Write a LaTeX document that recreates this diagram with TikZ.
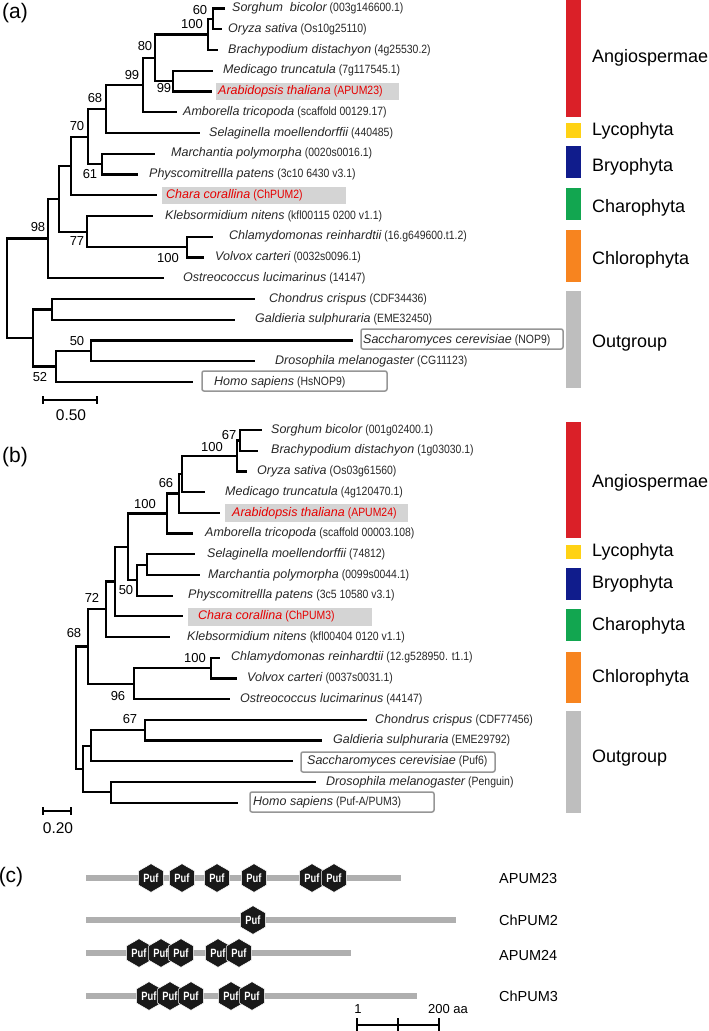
\documentclass[tikz,border=0pt]{standalone}
\usepackage{fontspec}
\setmainfont{Liberation Sans}
\usetikzlibrary{shapes.geometric}

\definecolor{angio}{RGB}{218,32,40}
\definecolor{lyco}{RGB}{255,210,20}
\definecolor{bryo}{RGB}{16,28,140}
\definecolor{charo}{RGB}{18,166,80}
\definecolor{chloro}{RGB}{247,132,31}
\definecolor{outg}{RGB}{190,190,190}
\definecolor{hilite}{RGB}{212,212,212}
\definecolor{boxline}{RGB}{150,150,150}
\definecolor{protgray}{RGB}{175,175,175}
\definecolor{labred}{RGB}{230,0,0}
\definecolor{labtext}{RGB}{40,40,40}

% species name + gene id
\newcommand\taxon[2]{{\fontsize{12.5}{14}\selectfont\itshape #1} \scalebox{.87}[1]{\fontsize{12}{14}\selectfont(#2)}}
\newcommand\pufl{\scalebox{.78}[1]{Puf}}

\begin{document}
\begin{tikzpicture}[x=1pt,y=-1pt,
    branch/.style={line width=2.2pt},
    tip/.style={anchor=west,inner sep=0pt,font=\fontsize{11}{13}\selectfont},
    boot/.style={inner sep=0pt,font=\fontsize{13}{13}\selectfont},
    group/.style={anchor=west,inner sep=0pt,font=\fontsize{18}{18}\selectfont},
    panel/.style={inner sep=0pt,font=\fontsize{21}{21}\selectfont},
    hl/.style={fill=hilite},
    outbox/.style={draw=boxline,line width=1.5pt,rounded corners=2pt},
    protein/.style={protgray,line width=5.5pt},
    puf/.style={regular polygon,regular polygon sides=6,shape border rotate=90,
      minimum size=28.5pt,inner sep=0pt,outer sep=0pt,fill=black!90,draw=white,line width=.5pt,
      text=white,font=\bfseries\fontsize{12}{12}\selectfont},
    prot/.style={anchor=west,inner sep=0pt,font=\fontsize{14.5}{14.5}\selectfont}]
  \useasboundingbox[fill=white] (0,0) rectangle (709,1031);

  \node[panel] (pa) at (15,13) {(a)};
  \node[panel] (pb) at (15,457) {(b)};
  \node[panel] (pc) at (11,877) {(c)};

  % ---------------- (a) ----------------
  \fill[hl] (216,83) rectangle (399,100);
  \fill[hl] (162,187) rectangle (346,204);
  \draw[outbox] (361,329) rectangle (563,349);
  \draw[outbox] (202,371) rectangle (387,391);

  \foreach \n/\e/\x/\sp/\id/\col in {
      1/225/232/Sorghum~~bicolor/003g146600.1/labtext,
      2/222/228/Oryza sativa/Os10g25110/labtext,
      3/218/228/Brachypodium distachyon/4g25530.2/labtext,
      4/213/223/Medicago truncatula/7g117545.1/labtext,
      5/212/218/Arabidopsis thaliana/APUM23/labred,
      6/177/183/Amborella tricopoda/scaffold 00129.17/labtext,
      7/200/209/Selaginella moellendorffii/440485/labtext,
      8/155/171/Marchantia polymorpha/0020s0016.1/labtext,
      9/138/149/Physcomitrellla patens/3c10 6430 v3.1/labtext,
      10/157/166/Chara corallina/ChPUM2/labred,
      11/153/165/Klebsormidium nitens/kfl00115 0200 v1.1/labtext,
      12/213/229/Chlamydomonas reinhardtii/16.g649600.t1.2/labtext,
      13/204/215/Volvox carteri/0032s0096.1/labtext,
      14/164/183/Ostreococcus lucimarinus/14147/labtext,
      15/255/269/Chondrus crispus/CDF34436/labtext,
      16/235/255/Galdieria sulphuraria/EME32450/labtext,
      17/353/363/Saccharomyces cerevisiae/NOP9/labtext,
      18/255/275/Drosophila melanogaster/CG11123/labtext,
      19/193/214/Homo sapiens/HsNOP9/labtext}
  {
    \coordinate (A\n) at (\e,{8.5+20.75*(\n-1)});
    \node[tip,text=\col] (LA\n) at (\x,{8.5+20.75*(\n-1)}) {\taxon{\sp}{\id}};
  }

  \coordinate (A-n1) at (213,18.9);
  \coordinate (A-n2) at (208,34.4);
  \coordinate (A-n3) at (173,81.1);
  \coordinate (A-n4) at (155,57.8);
  \coordinate (A-n5) at (143,85.0);
  \coordinate (A-n6) at (106,109.0);
  \coordinate (A-n7) at (102,164.1);
  \coordinate (A-n8) at (88,136.6);
  \coordinate (A-n9) at (71,165.9);
  \coordinate (A-n10) at (187,247.1);
  \coordinate (A-n11) at (87,231.6);
  \coordinate (A-n12) at (59,198.8);
  \coordinate (A-n13) at (48,238.5);
  \coordinate (A-n14) at (52,309.4);
  \coordinate (A-n15) at (91,350.9);
  \coordinate (A-n16) at (56,366.5);
  \coordinate (A-n17) at (33,338.0);
  \coordinate (A-root) at (7,288.2);

  \draw[branch] (A-n1) |- (A1) (A-n1) |- (A2)
    (A-n2) |- (A-n1) (A-n2) |- (A3)
    (A-n3) |- (A4) (A-n3) |- (A5)
    (A-n4) |- (A-n2) (A-n4) |- (A-n3)
    (A-n5) |- (A-n4) (A-n5) |- (A6)
    (A-n6) |- (A-n5) (A-n6) |- (A7)
    (A-n7) |- (A8) (A-n7) |- (A9)
    (A-n8) |- (A-n6) (A-n8) |- (A-n7)
    (A-n9) |- (A-n8) (A-n9) |- (A10)
    (A-n10) |- (A12) (A-n10) |- (A13)
    (A-n11) |- (A11) (A-n11) |- (A-n10)
    (A-n12) |- (A-n9) (A-n12) |- (A-n11)
    (A-n13) |- (A-n12) (A-n13) |- (A14)
    (A-n14) |- (A15) (A-n14) |- (A16)
    (A-n15) |- (A17) (A-n15) |- (A18)
    (A-n16) |- (A-n15) (A-n16) |- (A19)
    (A-n17) |- (A-n14) (A-n17) |- (A-n16)
    (A-root) |- (A-n13) (A-root) |- (A-n17);

  \node[boot] (bA1) at (200,10) {60};
  \node[boot] (bA2) at (192,24) {100};
  \node[boot] (bA3) at (145,46) {80};
  \node[boot] (bA4) at (164,88) {99};
  \node[boot] (bA5) at (132,75) {99};
  \node[boot] (bA6) at (95,98) {68};
  \node[boot] (bA7) at (90,174) {61};
  \node[boot] (bA8) at (77,126) {70};
  \node[boot] (bA9) at (38,227) {98};
  \node[boot] (bA10) at (77,241) {77};
  \node[boot] (bA11) at (168,258) {100};
  \node[boot] (bA12) at (77,341) {50};
  \node[boot] (bA13) at (40,377) {52};

  \draw[line width=1.4pt] (43,400) -- (97,400) (43,396) -- (43,404) (97,396) -- (97,404);
  \node[inner sep=0pt,font=\fontsize{15.5}{15.5}\selectfont] (sA) at (71,415) {0.50};

  \fill[angio] (566,0) rectangle (581,117);
  \fill[lyco] (566,123) rectangle (581,138);
  \fill[bryo] (566,146) rectangle (581,178);
  \fill[charo] (566,188) rectangle (581,220);
  \fill[chloro] (566,230) rectangle (581,282);
  \fill[outg] (566,291) rectangle (581,388);
  \node[group] (gA1) at (592,58) {Angiospermae};
  \node[group] (gA2) at (592,131) {Lycophyta};
  \node[group] (gA3) at (592,167) {Bryophyta};
  \node[group] (gA4) at (592,208) {Charophyta};
  \node[group] (gA5) at (592,260) {Chlorophyta};
  \node[group] (gA6) at (592,343) {Outgroup};

  % ---------------- (b) ----------------
  \fill[hl] (225,504) rectangle (408,522);
  \fill[hl] (188,608) rectangle (372,626);
  \draw[outbox] (301,752) rectangle (495,772);
  \draw[outbox] (250,792) rectangle (434,812);

  \foreach \n/\e/\x/\sp/\id/\col in {
      1/262/271/Sorghum bicolor/001g02400.1/labtext,
      2/258/271/Brachypodium distachyon/1g03030.1/labtext,
      3/247/257/Oryza sativa/Os03g61560/labtext,
      4/205/225/Medicago truncatula/4g120470.1/labtext,
      5/220/232/Arabidopsis thaliana/APUM24/labred,
      6/193/205/Amborella tricopoda/scaffold 00003.108/labtext,
      7/195/207/Selaginella moellendorffii/74812/labtext,
      8/200/208/Marchantia polymorpha/0099s0044.1/labtext,
      9/173/188/Physcomitrellla patens/3c5 10580 v3.1/labtext,
      10/183/198/Chara corallina/ChPUM3/labred,
      11/170/187/Klebsormidium nitens/kfl00404 0120 v1.1/labtext,
      12/220/231/Chlamydomonas reinhardtii/12.g528950. t1.1/labtext,
      13/237/247/Volvox carteri/0037s0031.1/labtext,
      14/230/240/Ostreococcus lucimarinus/44147/labtext,
      15/367/375/Chondrus crispus/CDF77456/labtext,
      16/322/333/Galdieria sulphuraria/EME29792/labtext,
      17/293/307/Saccharomyces cerevisiae/Puf6/labtext,
      18/316/326/Drosophila melanogaster/Penguin/labtext,
      19/238/253/Homo sapiens/Puf-A\slash PUM3/labtext}
  {
    \coordinate (B\n) at (\e,{430+20.7*(\n-1)});
    \node[tip,text=\col] (LB\n) at (\x,{430+20.7*(\n-1)}) {\taxon{\sp}{\id}};
  }

  \coordinate (B-n1) at (240,440.4);
  \coordinate (B-n2) at (237,455.9);
  \coordinate (B-n3) at (182,474.0);
  \coordinate (B-n4) at (179,493.4);
  \coordinate (B-n5) at (167,513.5);
  \coordinate (B-n6) at (147,564.6);
  \coordinate (B-n7) at (137,580.1);
  \coordinate (B-n8) at (128,546.8);
  \coordinate (B-n9) at (115,581.5);
  \coordinate (B-n10) at (106,609.3);
  \coordinate (B-n11) at (211,668.1);
  \coordinate (B-n12) at (134,683.6);
  \coordinate (B-n13) at (88,646.4);
  \coordinate (B-n14) at (145,730.2);
  \coordinate (B-n15) at (91,745.7);
  \coordinate (B-n16) at (111,792.3);
  \coordinate (B-n17) at (83,769.0);
  \coordinate (B-root) at (76,707.7);

  \draw[branch] (B-n1) |- (B1) (B-n1) |- (B2)
    (B-n2) |- (B-n1) (B-n2) |- (B3)
    (B-n3) |- (B-n2) (B-n3) |- (B4)
    (B-n4) |- (B-n3) (B-n4) |- (B5)
    (B-n5) |- (B-n4) (B-n5) |- (B6)
    (B-n6) |- (B7) (B-n6) |- (B8)
    (B-n7) |- (B-n6) (B-n7) |- (B9)
    (B-n8) |- (B-n5) (B-n8) |- (B-n7)
    (B-n9) |- (B-n8) (B-n9) |- (B10)
    (B-n10) |- (B-n9) (B-n10) |- (B11)
    (B-n11) |- (B12) (B-n11) |- (B13)
    (B-n12) |- (B-n11) (B-n12) |- (B14)
    (B-n13) |- (B-n10) (B-n13) |- (B-n12)
    (B-n14) |- (B15) (B-n14) |- (B16)
    (B-n15) |- (B-n14) (B-n15) |- (B17)
    (B-n16) |- (B18) (B-n16) |- (B19)
    (B-n17) |- (B-n15) (B-n17) |- (B-n16)
    (B-root) |- (B-n13) (B-root) |- (B-n17);

  \node[boot] (bB1) at (229,435) {67};
  \node[boot] (bB2) at (212,447) {100};
  \node[boot] (bB3) at (166,483) {66};
  \node[boot] (bB4) at (145,504) {100};
  \node[boot] (bB5) at (126,590) {50};
  \node[boot] (bB6) at (92,598) {72};
  \node[boot] (bB7) at (74,633) {68};
  \node[boot] (bB8) at (195,658) {100};
  \node[boot] (bB9) at (118,696) {96};
  \node[boot] (bB10) at (130,719) {67};

  \draw[line width=1.4pt] (43,811) -- (71,811) (43,807) -- (43,815) (71,807) -- (71,815);
  \node[inner sep=0pt,font=\fontsize{15.5}{15.5}\selectfont] (sB) at (58,828) {0.20};

  \fill[angio] (566,422) rectangle (581,538);
  \fill[lyco] (566,545) rectangle (581,559);
  \fill[bryo] (566,568) rectangle (581,600);
  \fill[charo] (566,609) rectangle (581,641);
  \fill[chloro] (566,652) rectangle (581,703);
  \fill[outg] (566,711) rectangle (581,813);
  \node[group] (gB1) at (592,483) {Angiospermae};
  \node[group] (gB2) at (592,552) {Lycophyta};
  \node[group] (gB3) at (592,584) {Bryophyta};
  \node[group] (gB4) at (592,626) {Charophyta};
  \node[group] (gB5) at (592,678) {Chlorophyta};
  \node[group] (gB6) at (592,758) {Outgroup};

  % ---------------- (c) ----------------
  \draw[protein] (86,878) -- (401,878);
  \draw[protein] (86,920) -- (456,920);
  \draw[protein] (86,953) -- (351,953);
  \draw[protein] (86,996) -- (417,996);

  \foreach \x [count=\i] in {151,182,217,254,312,334}
    \node[puf] (p1-\i) at (\x,878) {\pufl};
  \node[puf] (p2-1) at (253,920) {\pufl};
  \foreach \x [count=\i] in {139,161,181,218,239}
    \node[puf] (p3-\i) at (\x,953) {\pufl};
  \foreach \x [count=\i] in {149,170,191,231,252}
    \node[puf] (p4-\i) at (\x,996) {\pufl};

  \node[prot] (c1) at (499,878) {APUM23};
  \node[prot] (c2) at (499,920) {ChPUM2};
  \node[prot] (c3) at (499,955) {APUM24};
  \node[prot] (c4) at (499,996) {ChPUM3};

  \node[inner sep=0pt,font=\fontsize{13}{13}\selectfont] (aa1) at (358,1009) {1};
  \node[anchor=west,inner sep=0pt,font=\fontsize{13}{13}\selectfont] (aa200) at (428,1009) {200 aa};
  \draw[line width=1.5pt] (357,1025) -- (439,1025)
    (357,1018) -- (357,1031) (398,1018) -- (398,1031) (439,1018) -- (439,1031);
\end{tikzpicture}
\end{document}
